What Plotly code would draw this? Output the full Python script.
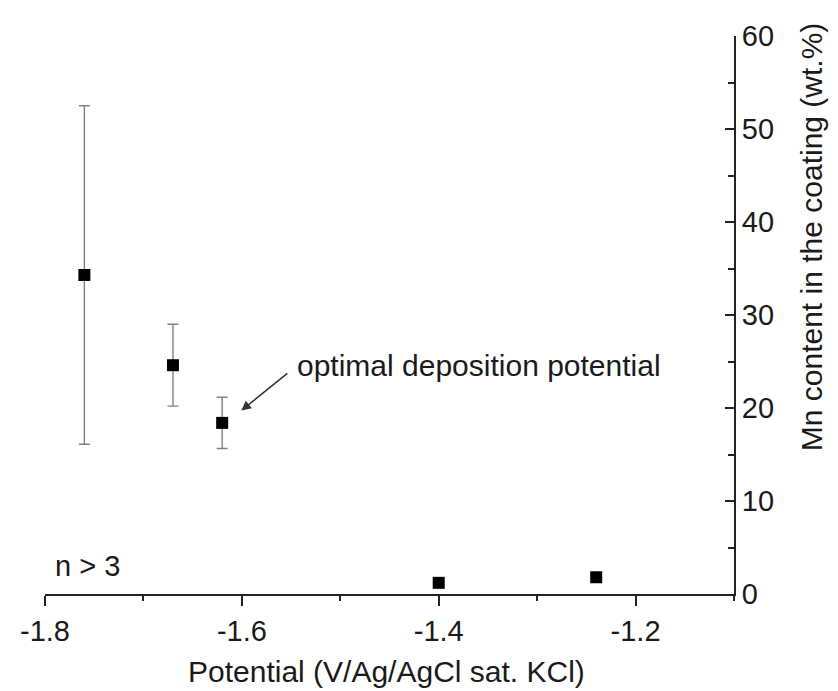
import plotly.graph_objects as go

potential = [-1.76, -1.67, -1.62, -1.40, -1.24]
mn_content = [34.3, 24.6, 18.4, 1.2, 1.8]
mn_error = [18.2, 4.4, 2.75, 0.0, 0.0]

x_tickvals = [-1.8, -1.6, -1.4, -1.2]
x_ticktext = ["-1.8", "-1.6", "-1.4", "-1.2"]
y_tickvals = [0, 10, 20, 30, 40, 50, 60]

x_title = "Potential (V/Ag/AgCl sat. KCl)"
y_title = "Mn content in the coating (wt.%)"
note_text = "optimal deposition potential"
n_text = "n &gt; 3"

font_family = "Liberation Sans, Arial, sans-serif"
txt_color = "#1a1a1a"
axis_color = "#222222"

fig = go.Figure()
fig.add_trace(go.Scatter(
    x=potential, y=mn_content, mode="markers",
    marker=dict(symbol="square", size=12, color="black"),
    error_y=dict(type="data", array=mn_error, visible=True,
                 color="#808080", thickness=1.4, width=5.5),
    showlegend=False,
))

fig.update_layout(
    width=838, height=691,
    margin=dict(l=31, r=112, t=20, b=105),
    paper_bgcolor="white", plot_bgcolor="white",
    font=dict(family=font_family, size=29, color=txt_color),
    xaxis=dict(
        range=[-1.8, -1.1], showgrid=False, zeroline=False,
        showline=True, linecolor=axis_color, linewidth=2,
        ticks="outside", ticklen=10, tickwidth=1.6, tickcolor=axis_color,
        tickvals=x_tickvals, ticktext=x_ticktext,
        tickfont=dict(size=29, color=txt_color),
        minor=dict(dtick=0.1, ticks="outside", ticklen=5, tickwidth=1.6, tickcolor=axis_color),
    ),
    yaxis=dict(
        side="right", range=[0, 60], showgrid=False, zeroline=False,
        showline=True, linecolor=axis_color, linewidth=2,
        ticks="inside", ticklen=9, tickwidth=1.6, tickcolor=axis_color,
        tickvals=y_tickvals, tickfont=dict(size=29, color=txt_color),
        minor=dict(dtick=5, ticks="inside", ticklen=6, tickwidth=1.6, tickcolor=axis_color),
    ),
)

# axis titles
fig.add_annotation(
    x=0.495, y=-0.138, xref="paper", yref="paper",
    text=x_title, showarrow=False, xanchor="center", yanchor="middle",
    font=dict(size=30, color=txt_color),
)
fig.add_annotation(
    x=1.1137, y=0.64, xref="paper", yref="paper",
    text=y_title, showarrow=False, textangle=-90,
    xanchor="center", yanchor="middle",
    font=dict(size=30, color=txt_color),
)

# arrow
fig.add_annotation(
    x=-1.6006, y=19.72, xref="x", yref="y",
    ax=-1.5523, ay=23.85, axref="x", ayref="y",
    text="", showarrow=True,
    arrowhead=2, arrowsize=1.3, arrowwidth=1.5, arrowcolor="#333333",
    standoff=0, startstandoff=0,
)
# arrow label
fig.add_annotation(
    x=-1.546, y=24.6, xref="x", yref="y",
    text=note_text, showarrow=False, xanchor="left", yanchor="middle",
    font=dict(size=30, color=txt_color),
)
fig.add_annotation(
    x=0.011, y=0.051, xref="paper", yref="paper",
    text=n_text, showarrow=False, xanchor="left", yanchor="middle",
    font=dict(size=29, color=txt_color),
)

fig.write_html("out.html")
